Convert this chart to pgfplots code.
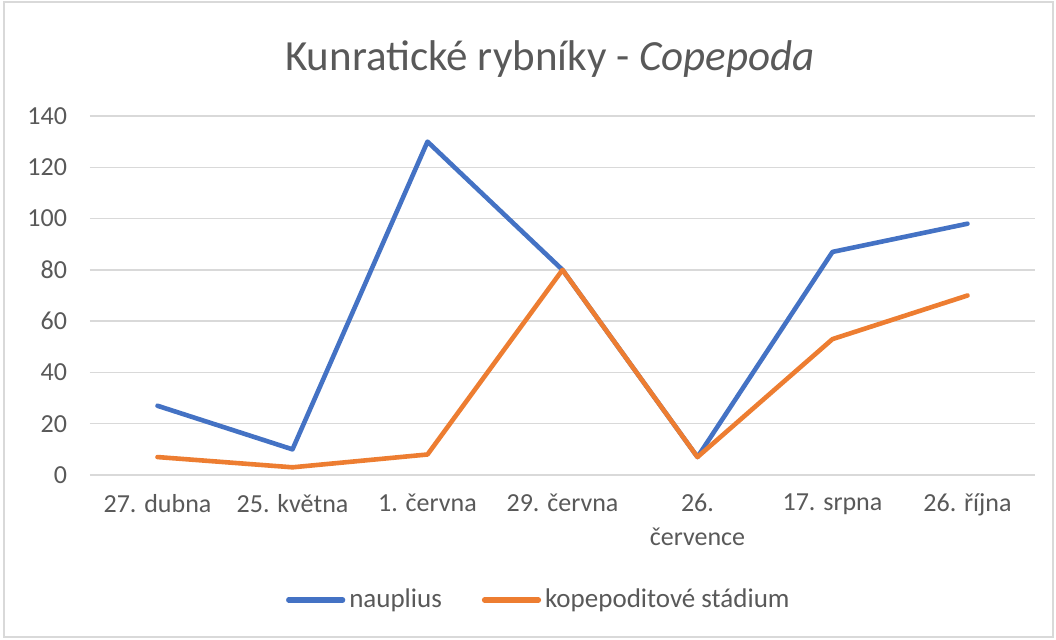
\documentclass[border=0pt]{standalone}
\usepackage{fontspec}
\setmainfont{Carlito}
\usepackage{pgfplots}
\pgfplotsset{compat=1.18}
\definecolor{cblue}{HTML}{4472C4}
\definecolor{corange}{HTML}{ED7D31}
\definecolor{cgrid}{HTML}{D9D9D9}
\definecolor{ctext}{HTML}{595959}
\begin{document}
\begin{tikzpicture}
\useasboundingbox (0,0) rectangle (528pt,319.5pt);
\fill[white] (0,0) rectangle (528pt,319.5pt);
\draw[cgrid, line width=0.75pt] (2pt,1pt) rectangle (526.5pt,318.5pt);
\node[text=ctext, font=\fontsize{21.5}{25}\selectfont] at (275pt,290pt) {Kunratické rybníky - \textit{Copepoda}};
\begin{axis}[
  at={(45pt,82pt)}, anchor=south west,
  scale only axis, width=472.5pt, height=179.5pt,
  xmin=-0.5, xmax=6.5, ymin=0, ymax=140,
  xtick={0,1,2,3,4,5,6},
  xticklabels={27. dubna, 25. května, 1. června, 29. června, {26.\\července}, 17. srpna, 26. října},
  ytick={0,20,40,60,80,100,120,140},
  /pgf/number format/assume math mode=true,
  ymajorgrids, grid style={cgrid, line width=0.75pt},
  axis line style={draw=none},
  major tick length=0pt,
  tick label style={text=ctext, font=\fontsize{13}{17}\selectfont},
  x tick label style={align=center, anchor=north, yshift=-6pt},
  yticklabel style={anchor=east, xshift=-8pt},
  legend style={at={(0.476,-0.348)}, anchor=center, legend columns=2, draw=none, fill=none,
    font=\fontsize{13.5}{16}\selectfont, text=ctext,
    /tikz/every even column/.append style={column sep=18pt}},
  legend cell align=left,
  legend image code/.code={\draw[#1, line width=2.6pt, line cap=round] (0pt,0pt) -- (27pt,0pt);},
]
\addplot[cblue, line width=2.3pt, line join=round, line cap=round] coordinates {
(0,27) (1,10) (2,130) (3,80) (4,7) (5,87) (6,98)};
\addlegendentry{nauplius}
\addplot[corange, line width=2.3pt, line join=round, line cap=round] coordinates {
(0,7) (1,3) (2,8) (3,80) (4,7) (5,53) (6,70)};
\addlegendentry{kopepoditové stádium}
\end{axis}
\end{tikzpicture}
\end{document}
